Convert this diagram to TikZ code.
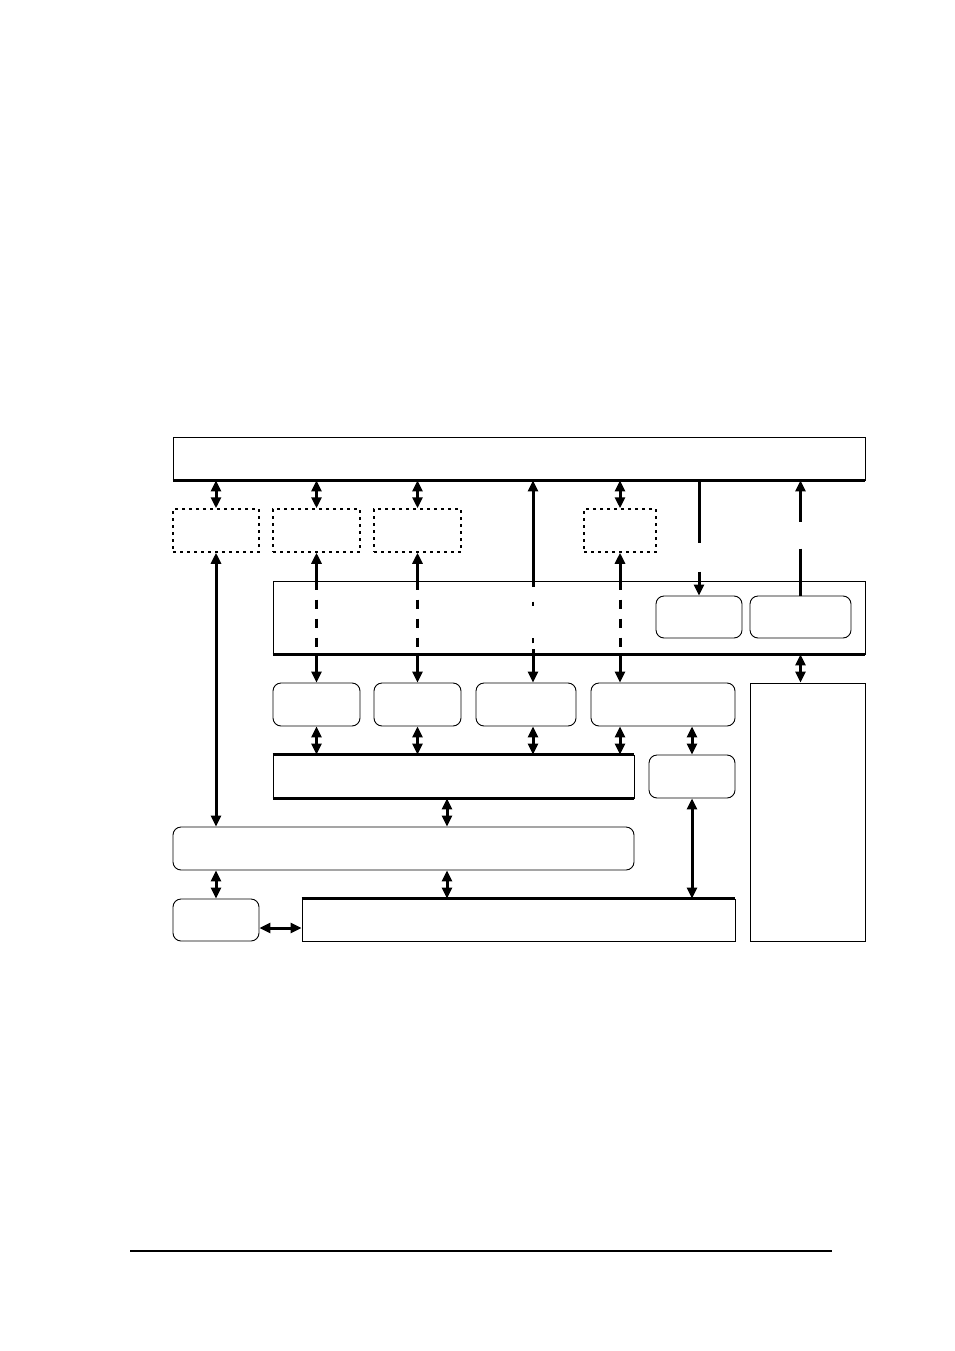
\documentclass[tikz,border=0pt]{standalone}
\usetikzlibrary{arrows.meta}
\begin{document}
\begin{tikzpicture}[x=1pt, y=-1pt,
    box/.style={rectangle, draw, line width=0.9pt, inner sep=0pt},
    rbox/.style={box, rounded corners=8pt},
    dbox/.style={box, dash pattern=on 3pt off 4pt, line width=1.5pt},
    edge/.style={line width=2.2pt},
    link/.style={line width=3pt, {Triangle[length=11pt,width=10pt]}-{Triangle[length=11pt,width=10pt]}},
    uplink/.style={line width=3pt, {Triangle[length=11pt,width=10pt]}-},
    downlink/.style={line width=3pt, -{Triangle[length=11pt,width=10pt]}},
    plain/.style={line width=3pt},
    dashlink/.style={line width=3pt, dash pattern=on 9pt off 10pt, dash phase=-19pt}]
    \useasboundingbox (0,0) rectangle (954,1351);

    % Top layer
    \node [box, minimum width=692pt, minimum height=43pt] (top) at (519,458.5) {};
    \draw [edge] (top.south west) -- (top.south east);

    % Dotted boxes
    \node [dbox, minimum width=86pt, minimum height=43pt] (d1) at (216,530.5) {};
    \node [dbox, minimum width=87pt, minimum height=43pt] (d2) at (316.5,530.5) {};
    \node [dbox, minimum width=87pt, minimum height=43pt] (d3) at (417.5,530.5) {};
    \node [dbox, minimum width=72pt, minimum height=43pt] (d4) at (620,530.5) {};

    % Frame with inner boxes
    \node [box, minimum width=592pt, minimum height=73pt] (frame) at (569,617.5) {};
    \draw [edge] (frame.south west) -- (frame.south east);
    \node [rbox, minimum width=86pt, minimum height=42pt] (r1) at (699,617) {};
    \node [rbox, minimum width=101pt, minimum height=42pt] (r2) at (800.5,617) {};

    % Rounded row
    \node [rbox, minimum width=87pt, minimum height=43pt] (b1) at (316.5,704.5) {};
    \node [rbox, minimum width=87pt, minimum height=43pt] (b2) at (417.5,704.5) {};
    \node [rbox, minimum width=100pt, minimum height=43pt] (b3) at (526,704.5) {};
    \node [rbox, minimum width=144pt, minimum height=43pt] (b4) at (663,704.5) {};
    \node [box, minimum width=115pt, minimum height=258pt] (side) at (807.5,812) {};

    % Lower layers
    \node [box, minimum width=361pt, minimum height=43pt] (mid) at (453.5,776.5) {};
    \draw [edge] (mid.north west) -- (mid.north east);
    \draw [edge] (mid.south west) -- (mid.south east);
    \node [rbox, minimum width=86pt, minimum height=43pt] (small) at (692,776.5) {};
    \node [rbox, minimum width=461pt, minimum height=43pt] (wide) at (403.5,848.5) {};
    \node [rbox, minimum width=86pt, minimum height=42pt] (bl) at (216,920) {};
    \node [box, minimum width=433pt, minimum height=42pt] (bot) at (518.5,920) {};
    \draw [edge] (bot.north west) -- (bot.north east);

    % Arrows to top layer
    \foreach \n in {d1,d2,d3,d4}
        \draw [link] (\n.north) -- (\n.north |- top.south);
    \draw [uplink] ([xshift=7pt]b3.north |- top.south) -- ([xshift=7pt]b3.north |- frame.north);
    \draw [plain] ([xshift=7pt]b3.north |- frame.north) -- ++(0,6);
    \draw [plain] ([xshift=7pt]b3.north |- frame.south) -- ++(0,-5);
    \draw [plain, line width=2pt] ([xshift=7pt]b3.north |- frame.north) ++(0,21) -- ++(0,4);
    \draw [plain, line width=2pt] ([xshift=7pt]b3.north |- frame.south) ++(0,-11) -- ++(0,-5);
    \draw [downlink] ([xshift=7pt]b3.north |- frame.south) -- ([xshift=7pt]b3.north);

    % Arrows through the frame
    \foreach \n/\m in {d2/b1,d3/b2,d4/b4} {
        \draw [uplink] (\n.south) -- (\n.south |- frame.north);
        \draw [dashlink] (\n.south |- frame.north) -- (\n.south |- frame.south);
        \draw [downlink] (\n.south |- frame.south) -- (\n.south |- \m.north);
    }
    \draw [plain] (r1.north |- top.south) -- ++(0,63);
    \draw [downlink] (r1.north) ++(0,-24) -- (r1.north);
    \draw [uplink] (r2.north |- top.south) -- ++(0,42);
    \draw [plain] (r2.north) ++(0,-47) -- (r2.north);
    \draw [link] (r2.south |- frame.south) -- (r2.south |- side.north);

    % Arrows between layers
    \draw [link] (d1.south) -- (d1.south |- wide.north);
    \foreach \n in {b1,b2}
        \draw [link] (\n.south) -- (\n.south |- mid.north);
    \draw [link] ([xshift=7pt]b3.south) -- ([xshift=7pt]b3.south |- mid.north);
    \draw [link] (d4.south |- b4.south) -- (d4.south |- mid.north);
    \draw [link] (small.north) -- (small.north |- b4.south);
    \draw [link] ([xshift=-6.5pt]mid.south) -- ([xshift=-6.5pt]mid.south |- wide.north);
    \draw [link] (bl.north) -- (bl.north |- wide.south);
    \draw [link] ([xshift=-6.5pt]mid.south |- wide.south) -- ([xshift=-6.5pt]mid.south |- bot.north);
    \draw [link] (small.south) -- (small.south |- bot.north);
    \draw [link] ([yshift=-8pt]bl.east) -- ([yshift=-8pt]bl.east -| bot.west);

    % Footer rule
    \draw [line width=1.6pt] (130,1251) -- (832,1251);
\end{tikzpicture}
\end{document}
